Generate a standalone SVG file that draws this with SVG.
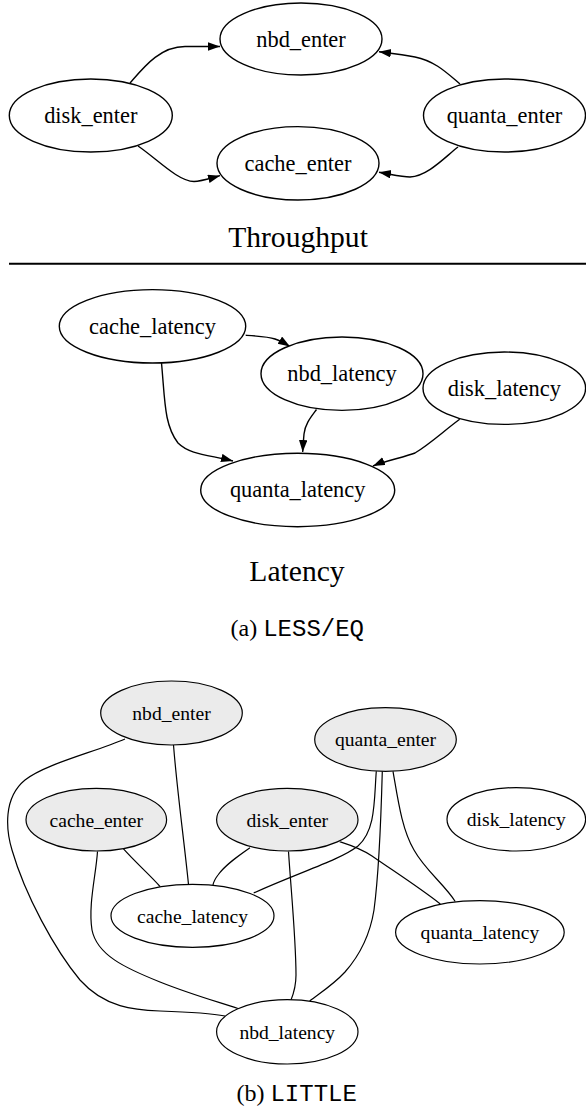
<svg xmlns="http://www.w3.org/2000/svg" width="586" height="1107" viewBox="0 0 586 1107">
<style>
  .n ellipse { fill: #ffffff; stroke: #000000; stroke-width: 1.4; }
  .g ellipse { fill: #ebebeb; stroke: #000000; stroke-width: 1.2; }
  .w ellipse { fill: #ffffff; stroke: #000000; stroke-width: 1.2; }
  .t1 { font-family: "Liberation Serif", "Times New Roman", serif; font-size: 22.4px; text-anchor: middle; fill: #000; }
  .t2 { font-family: "Liberation Serif", "Times New Roman", serif; font-size: 19.6px; text-anchor: middle; fill: #000; }
  .title { font-family: "Liberation Serif", "Times New Roman", serif; font-size: 29.6px; text-anchor: middle; fill: #000; }
  .cap { font-size: 24px; text-anchor: middle; fill: #000; }
  .serif { font-family: "Liberation Serif", "Times New Roman", serif; }
  .mono { font-family: "Liberation Mono", "Courier New", monospace; }
  .e path { fill: none; stroke: #000; stroke-width: 1.4; }
  .ea path { marker-end: url(#arr); }
  .eb path { fill: none; stroke: #000; stroke-width: 1.2; }
</style>
<defs>
  <marker id="arr" markerUnits="userSpaceOnUse" markerWidth="13" markerHeight="10" refX="12" refY="4.25" orient="auto">
    <path d="M0,0 L12,4.25 L0,8.5 z" fill="#000"/>
  </marker>
</defs>

<!-- Throughput graph -->
<g id="connectors-throughput" class="e ea">
  <path d="M130,83 C144,67 160,46.5 185,46.5 L220,46.5"/>
  <path d="M138,146 C156,158 178,181.5 194,181.5 C200,181.5 208,179 220,175.7"/>
  <path d="M460,84 C447,73 435,61 415,57 C405,55 393,53.5 379,51.7"/>
  <path d="M458,147 C445,157 428,176 410,177 C402,177 392,174.5 379,172.3"/>
</g>
<g id="t_nbd_enter" class="n"><ellipse cx="301" cy="39" rx="81" ry="36"/><text class="t1" x="301" y="46.5">nbd_enter</text></g>
<g id="t_disk_enter" class="n"><ellipse cx="90.8" cy="115.5" rx="81.5" ry="36.5"/><text class="t1" x="90.8" y="123">disk_enter</text></g>
<g id="t_quanta_enter" class="n"><ellipse cx="504.5" cy="115.5" rx="81" ry="36.5"/><text class="t1" x="504.5" y="123">quanta_enter</text></g>
<g id="t_cache_enter" class="n"><ellipse cx="298" cy="163.3" rx="81" ry="36.7"/><text class="t1" x="298" y="170.8">cache_enter</text></g>
<text id="title-throughput" class="title" x="298" y="247">Throughput</text>

<line id="separator" x1="9" y1="263.7" x2="586" y2="263.7" stroke="#000" stroke-width="2"/>

<!-- Latency graph -->
<g id="connectors-latency" class="e ea">
  <path d="M245.7,335.3 C258,336 268,336.5 275,339 C281,341 286,344 290,346.5"/>
  <path d="M161.5,363 C165,400 164,425 178,443 C190,455 210,455 233,461"/>
  <path d="M316.5,409.5 C311,417 305,424 304,434 C303.5,440 303,445 302.7,452"/>
  <path d="M459.7,419.3 C445,430 430,444 415,453 C405,457 383,461.5 373,466"/>
</g>
<g id="l_cache_latency" class="n"><ellipse cx="152.5" cy="326.3" rx="93.2" ry="36.7"/><text class="t1" x="152.5" y="333.7">cache_latency</text></g>
<g id="l_nbd_latency" class="n"><ellipse cx="342" cy="373.7" rx="81" ry="36.7"/><text class="t1" x="342" y="381.1">nbd_latency</text></g>
<g id="l_disk_latency" class="n"><ellipse cx="504.3" cy="388.2" rx="81.3" ry="36.2"/><text class="t1" x="504.3" y="395.6">disk_latency</text></g>
<g id="l_quanta_latency" class="n"><ellipse cx="297.7" cy="490" rx="97" ry="36.7"/><text class="t1" x="297.7" y="497.4">quanta_latency</text></g>
<text id="title-latency" class="title" x="297" y="581.3">Latency</text>

<text id="caption-a" class="cap" x="297.3" y="635.7"><tspan class="serif">(a) </tspan><tspan class="mono">LESS/EQ</tspan></text>

<!-- LITTLE graph -->
<g id="connectors-little" class="eb">
  <path d="M125,739 C95,752 45,764 25,780 C3,798 6,830 12,850 C25,895 55,950 80,980 C105,1008 135,1010 160,1011 C190,1012 210,1013 225,1016"/>
  <path d="M173.5,745 C177,790 184,840 188.5,884.5"/>
  <path d="M123.3,848.7 C135,862 150,875 160,886.5"/>
  <path d="M97.5,851.5 C96,875 88,905 92,930 C97,955 125,968 160,982 C190,994 215,1001 238,1008.5"/>
  <path d="M250,847.7 C238,856 225,865 218,875 C215,879 213.5,882 213,885"/>
  <path d="M288.5,851.5 C291,890 296,940 296,975 C296,985 293,995 291,1000"/>
  <path d="M339.7,841.7 C350,845 360,848 372,856 C395,872 420,888 440.3,904"/>
  <path d="M376.3,771.3 C374,800 376,830 358,846 C340,860 300,872 253.7,893"/>
  <path d="M382.3,771.3 C381,820 378,880 374,910 C370,935 360,955 345,972 C333,985 320,993 309.7,1001"/>
  <path d="M393,771.3 C398,800 402,830 414,850 C425,870 445,885 455.2,901.5"/>
</g>
<g id="b_nbd_enter" class="g"><ellipse cx="171.5" cy="713" rx="70.8" ry="32"/><text class="t2" x="171.5" y="719.8">nbd_enter</text></g>
<g id="b_quanta_enter" class="g"><ellipse cx="385.5" cy="739.5" rx="70.8" ry="31.8"/><text class="t2" x="385.5" y="746.3">quanta_enter</text></g>
<g id="b_cache_enter" class="g"><ellipse cx="96.3" cy="819.7" rx="70.3" ry="31.3"/><text class="t2" x="96.3" y="826.5">cache_enter</text></g>
<g id="b_disk_enter" class="g"><ellipse cx="287.3" cy="819.7" rx="70.7" ry="31.3"/><text class="t2" x="287.3" y="826.5">disk_enter</text></g>
<g id="b_disk_latency" class="w"><ellipse cx="516.3" cy="819.3" rx="69.3" ry="31.7"/><text class="t2" x="516.3" y="826.1">disk_latency</text></g>
<g id="b_cache_latency" class="w"><ellipse cx="192.5" cy="915.8" rx="81.5" ry="31.5"/><text class="t2" x="192.5" y="922.6">cache_latency</text></g>
<g id="b_quanta_latency" class="w"><ellipse cx="479.9" cy="932.3" rx="84.3" ry="31.7"/><text class="t2" x="479.9" y="939.1">quanta_latency</text></g>
<g id="b_nbd_latency" class="w"><ellipse cx="287.3" cy="1031.8" rx="70.7" ry="32.2"/><text class="t2" x="287.3" y="1038.6">nbd_latency</text></g>

<text id="caption-b" class="cap" x="296.7" y="1100.7"><tspan class="serif">(b) </tspan><tspan class="mono">LITTLE</tspan></text>
</svg>
